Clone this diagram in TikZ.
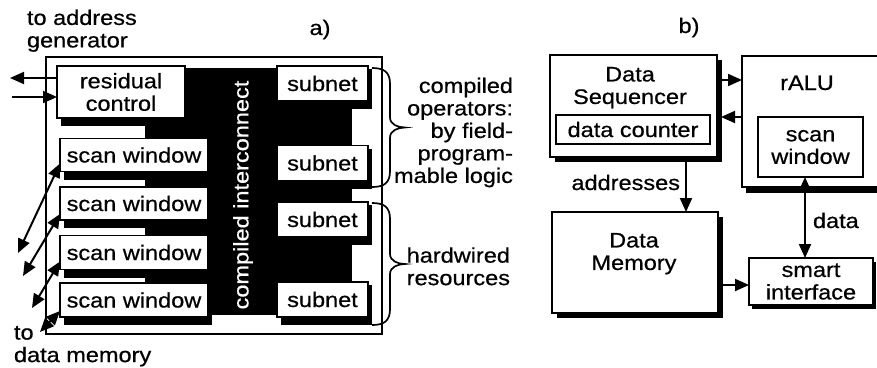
\documentclass[tikz,border=0pt]{standalone}
\usepackage{fontspec}
\setmainfont{Liberation Sans}[FakeStretch=1.12,FakeBold=0.6]
\usetikzlibrary{arrows.meta,calc}
\pgfdeclarelayer{bg}
\pgfsetlayers{bg,main}
\begin{document}
\begin{tikzpicture}[x=1pt,y=-1pt,
  every node/.style={font=\fontsize{21}{22.5}\selectfont, inner sep=0pt, outer sep=0pt},
  box/.style={draw=black, fill=white, line width=1.7pt, rectangle, align=center},
  bbox/.style={draw=black, fill=white, line width=2.2pt, rectangle, align=center},
  arr/.style={line width=2pt, -{Triangle[length=14pt,width=12pt]}},
  dbl/.style={line width=2pt, {Triangle[length=14pt,width=12pt]}-{Triangle[length=14pt,width=12pt]}},
  brace/.style={line width=1.7pt},
]
\useasboundingbox (0,0) rectangle (877,367);

% ---------------- a) ----------------
\node[box, minimum width=128, minimum height=52] (res) at (121,92) {residual\\control};
\node[box, minimum width=148, minimum height=33] (sw1) at (134,155) {scan window};
\node[box, minimum width=148, minimum height=33] (sw2) at (134,203.5) {scan window};
\node[box, minimum width=148, minimum height=34] (sw3) at (134,252.5) {scan window};
\node[box, minimum width=148, minimum height=34] (sw4) at (134,300) {scan window};
\node[box, minimum width=91, minimum height=35] (sn1) at (322.5,83.5) {subnet};
\node[box, minimum width=91, minimum height=35] (sn2) at (322.5,163) {subnet};
\node[box, minimum width=91, minimum height=35] (sn3) at (322.5,219.5) {subnet};
\node[box, minimum width=91, minimum height=35] (sn4) at (322.5,299.5) {subnet};
\node[rotate=90, text=white] (ci) at (243,195) {compiled interconnect};

\begin{pgfonlayer}{bg}
  \node[draw=black, line width=1.7pt, minimum width=336, minimum height=277] (outerA) at (214,195.5) {};
  \fill[black] (145,68) rectangle (352,315);
  \foreach \n in {res,sw1,sw2,sw3,sw4,sn1,sn2,sn3,sn4}
    \fill[black] ($(\n.north west)+(4,3)$) rectangle ($(\n.south east)+(4,8)$);
\end{pgfonlayer}

\node[anchor=north west, align=left] (toag) at (27,9.7) {to address\\generator};
\node[anchor=north west, align=left] (todm) at (14,326) {to\\data memory};
\node[anchor=base] (la) at (320,35) {a)};

\coordinate (ag1) at (10,78);
\coordinate (ag2) at (12,97);
\draw[arr] (res.west |- ag1) -- (ag1);
\draw[arr] (ag2) -- (res.west |- ag2);

\coordinate (dm1) at (18,253);
\coordinate (dm2) at (23,276);
\coordinate (dm3) at (32,308);
\coordinate (dm4) at (40,332);
\draw[dbl] ($(sw1.south west)+(0,-8)$) -- (dm1);
\draw[dbl] ($(sw2.south west)+(0,-6)$) -- (dm2);
\draw[dbl] ($(sw3.south west)+(0,-8)$) -- (dm3);
\draw[dbl] ($(sw4.south west)+(0,-6)$) -- (dm4);

\draw[brace] ($(sn1.north east)+(4,2)$) .. controls +(12,0) and +(0,-12) .. ++(18,16)
  -- ++(0,33.5) .. controls +(0,7) and +(-7,0) .. ++(15,10)
  .. controls +(-7,0) and +(0,-7) .. ++(-15,10)
  -- ++(0,33.5) .. controls +(0,12) and +(12,0) .. ++(-18,16);
\draw[brace] ($(sn3.north east)+(4,1)$) .. controls +(12,0) and +(0,-12) .. ++(18,16)
  -- ++(0,35) .. controls +(0,7) and +(-7,0) .. ++(15,10)
  .. controls +(-7,0) and +(0,-7) .. ++(-15,10)
  -- ++(0,35) .. controls +(0,12) and +(12,0) .. ++(-18,16);

\node[anchor=north east, align=right] (bt1) at (513,77.7) {compiled\\operators:\\by field-\\program-\\mable logic};
\node[anchor=north east, align=right] (bt2) at (510,247.4) {hardwired\\resources};

% ---------------- b) ----------------
\node[anchor=base] (lb) at (689,33) {b)};
\node[bbox, minimum width=167, minimum height=102] (seq) at (633.5,106) {};
\node[anchor=north, align=center] (seqt) at (630,67) {Data\\Sequencer};
\node[box, minimum width=154, minimum height=29] (dc) at (633,129.5) {data counter};
\node[bbox, minimum width=160, minimum height=131] (ralu) at (822,121.5) {};
\node[anchor=base] (ralut) at (807,90) {rALU};
\node[box, minimum width=105, minimum height=60] (swb) at (810.5,147) {scan\\window};
\node[bbox, minimum width=166, minimum height=101] (mem) at (635,262.5) {};
\node[anchor=north, align=center] (memt) at (634,233) {Data\\Memory};
\node[bbox, minimum width=124, minimum height=47] (smart) at (811,281.5) {smart\\interface};

\begin{pgfonlayer}{bg}
  \fill[black] ($(seq.north west)+(5,5)$) rectangle ($(seq.south east)+(5,5)$);
  \fill[black] ($(mem.north west)+(5,5)$) rectangle ($(mem.south east)+(5,5)$);
  \fill[black] ($(ralu.north west)+(4,6)$) rectangle ($(ralu.south east)+(4,6)$);
  \fill[black] ($(smart.north west)+(3,4)$) rectangle ($(smart.south east)+(3,4)$);
\end{pgfonlayer}

\draw[arr] ($(seq.north east)+(5,25)$) -- ($(ralu.north west)+(0,24)$);
\draw[arr] ($(ralu.north west)+(0,61)$) -- ($(seq.north east)+(4,62)$);
\draw[arr] ($(seq.south)+(52.5,5)$) -- ($(mem.north)+(51,0)$);
\draw[arr] ($(mem.east)+(5,22.5)$) -- ($(smart.west)+(0,3.5)$);
\draw[dbl] ($(swb.south)+(-5.5,0)$) -- ($(smart.north)+(-6,0)$);
\node[anchor=base east] (addr) at (680,190) {addresses};
\node[anchor=base west] (datal) at (813,228) {data};
\end{tikzpicture}
\end{document}
